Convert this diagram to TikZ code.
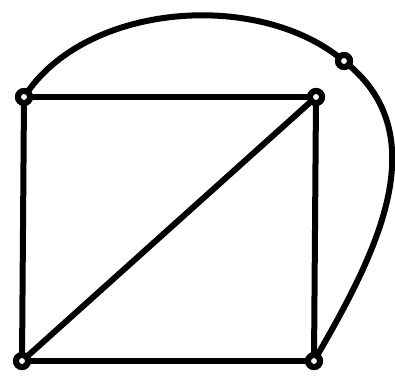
\documentclass[tikz,border=0pt]{standalone}
\usepackage{tikz}
\usetikzlibrary{positioning}

\begin{document}
\begin{tikzpicture}[
        x=1pt, y=-1pt,
        vertex/.style={draw=black, fill=white, circle, line width=6pt, minimum size=12pt, inner sep=0pt, outer sep=0pt},
        edge/.style={line width=6pt, color=black}
    ]
        \useasboundingbox (0,0) rectangle (395,376);

        % Vertices
        \node[vertex] (tl) at (24, 97) {};
        \node[vertex] (tr) at (316, 97) {};
        \node[vertex] (bl) at (22, 361) {};
        \node[vertex] (br) at (314, 361) {};
        \node[vertex] (top) at (344, 61) {};

        % Edges of the square and the diagonal
        \draw[edge] (tl) -- (tr);
        \draw[edge] (tr) -- (br);
        \draw[edge] (br) -- (bl);
        \draw[edge] (bl) -- (tl);
        \draw[edge] (bl) -- (tr);

        % Outer arc
        \draw[edge] (tl) to[out=55, in=142, looseness=0.88] (top);
        \draw[edge] (top) to[out=-40, in=60] (br);

        % Redraw vertices on top
        \foreach \v in {tl, tr, bl, br, top}
            \node[vertex] at (\v) {};
    \end{tikzpicture}
\end{document}
